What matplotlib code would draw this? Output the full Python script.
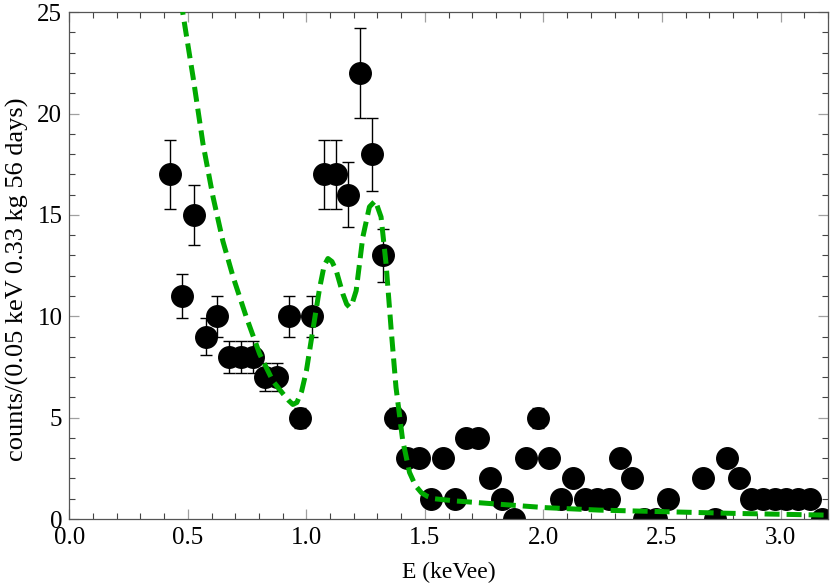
import numpy as np
import matplotlib
matplotlib.use("Agg")
import matplotlib.pyplot as plt
from matplotlib.ticker import MultipleLocator

# measured counts per 0.05 keV bin (bin centres); 2.575 and 2.625 have no entry
energy = [0.425, 0.475, 0.525, 0.575, 0.625, 0.675, 0.725, 0.775, 0.825, 0.875,
          0.925, 0.975, 1.025, 1.075, 1.125, 1.175, 1.225, 1.275, 1.325, 1.375,
          1.425, 1.475, 1.525, 1.575, 1.625, 1.675, 1.725, 1.775, 1.825, 1.875,
          1.925, 1.975, 2.025, 2.075, 2.125, 2.175, 2.225, 2.275, 2.325, 2.375,
          2.425, 2.475, 2.525, 2.675, 2.725, 2.775, 2.825, 2.875, 2.925, 2.975,
          3.025, 3.075, 3.125, 3.175]
counts = [17, 11, 15, 9, 10, 8, 8, 8, 7, 7,
          10, 5, 10, 17, 17, 16, 22, 18, 13, 5,
          3, 3, 1, 3, 1, 4, 4, 2, 1, 0,
          3, 5, 3, 1, 2, 1, 1, 1, 3, 2,
          0, 0, 1, 2, 0, 3, 2, 1, 1, 1,
          1, 1, 1, 0]
errors = [0.1 * c for c in counts]

# model curve
model_e = [0.470, 0.522, 0.564, 0.606, 0.648, 0.692, 0.747, 0.803, 0.859, 0.900,
           0.925, 0.943, 0.960, 0.980, 1.000, 1.027, 1.056, 1.075, 1.091, 1.108,
           1.126, 1.154, 1.170, 1.182, 1.195, 1.210, 1.238, 1.266, 1.291, 1.315,
           1.336, 1.358, 1.378, 1.406, 1.435, 1.460, 1.485, 1.510, 1.540, 1.631,
           1.813, 2.010, 2.235, 2.515, 2.796, 3.160, 3.200]
model_c = [25.6, 21.8, 18.5, 15.9, 13.7, 11.9, 9.95, 8.14, 6.8, 6.2,
           5.85, 5.65, 5.75, 6.3, 7.3, 9.3, 11.4, 12.5, 12.85, 12.7,
           12.25, 11.1, 10.6, 10.45, 10.7, 11.26, 13.9, 15.4, 15.7, 14.9,
           12.6, 9.3, 6.5, 3.9, 2.3, 1.65, 1.3, 1.12, 1.0, 0.89,
           0.73, 0.56, 0.44, 0.36, 0.28, 0.2, 0.19]

plt.rcParams["font.family"] = ["Liberation Serif", "DejaVu Serif"]

fig = plt.figure(figsize=(8.30, 5.88), dpi=100)
ax = fig.add_axes([0.0835, 0.1173, 0.914, 0.862])

ax.errorbar(energy, counts, yerr=errors, fmt="o", color="black", ms=15.5,
            ecolor="black", elinewidth=1.0, capsize=4.5, capthick=1.0, zorder=2)
ax.plot(model_e, model_c, color="#00aa00", lw=3.6, dashes=(3.0, 1.4), zorder=3)

ax.set_xlim(0, 3.2)
ax.set_ylim(0, 25)
ax.xaxis.set_major_locator(MultipleLocator(0.5))
ax.xaxis.set_minor_locator(MultipleLocator(0.1))
ax.yaxis.set_major_locator(MultipleLocator(5))
ax.yaxis.set_minor_locator(MultipleLocator(1))
ax.xaxis.set_major_formatter(plt.FuncFormatter(lambda v, p: f"{v:.1f}"))

ax.tick_params(which="both", direction="in", top=True, right=True,
               labelsize=18, color="#444444")
ax.tick_params(which="major", length=7, width=0.9, color="#a0a0a0")
ax.tick_params(which="minor", length=4, width=0.8)
ax.tick_params(axis="x", which="major", pad=6)
ax.tick_params(axis="y", which="major", pad=5)
for s in ax.spines.values():
    s.set_color("#555555")
    s.set_linewidth(0.9)

ax.set_xlabel("E (keVee)", fontsize=17, labelpad=9)
ax.set_ylabel("counts/(0.05 keV 0.33 kg 56 days)", fontsize=19)
ax.yaxis.set_label_coords(-0.053, 0.474)

fig.savefig("out.png", dpi=100)
